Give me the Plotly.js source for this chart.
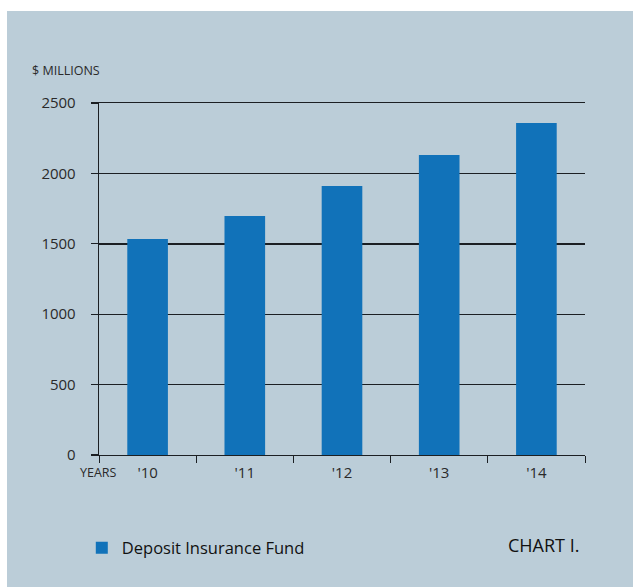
<!DOCTYPE html>
<html>
<head>
<meta charset="utf-8">
<script src="https://cdn.plot.ly/plotly-3.0.1.min.js"></script>
<style>
  html, body { margin: 0; padding: 0; background: #ffffff; width: 633px; height: 587px; overflow: hidden; }
  #chart { position: absolute; left: 7px; top: 11px; width: 626px; height: 576px; }
</style>
</head>
<body>
<div id="chart"></div>
<script>
const years = ["'10", "'11", "'12", "'13", "'14"];
const fundValues = [1534, 1697, 1910, 2131, 2358];
const seriesName = "Deposit Insurance Fund";
const yTicks = [0, 500, 1000, 1500, 2000, 2500];

const FONT = "'Open Sans', 'Noto Sans', sans-serif";
const BG = "#bbcdd8";
const BAR = "#1172b9";
const TXT = "#1e1e1e";
const LINE = "#1b1f23";

const trace = {
  type: "bar",
  x: years,
  y: fundValues,
  name: seriesName,
  marker: { color: BAR, line: { width: 0 } },
  hoverinfo: "x+y"
};

const layout = {
  width: 626,
  height: 576,
  paper_bgcolor: BG,
  plot_bgcolor: BG,
  margin: { l: 92, r: 48, t: 92, b: 132, pad: 0 },
  bargap: 0.582,
  font: { family: FONT, color: TXT, size: 15 },
  showlegend: true,
  legend: {
    x: -0.0354, xanchor: "left",
    y: -0.264, yanchor: "middle",
    bgcolor: "rgba(0,0,0,0)",
    font: { family: FONT, size: 16.5, color: "#111111" }
  },
  xaxis: {
    type: "category",
    tickson: "boundaries",
    ticks: "outside",
    ticklen: 7,
    tickwidth: 1,
    tickcolor: LINE,
    showline: true,
    mirror: true,
    linecolor: LINE,
    linewidth: 1.3,
    showgrid: false,
    tickfont: { family: FONT, size: 15, color: "#2a2a2a" },
    ticklabelstandoff: 4,
    fixedrange: true
  },
  yaxis: {
    range: [0, 2500],
    tickvals: yTicks,
    ticktext: yTicks.map(String),
    ticks: "outside",
    ticklen: 7,
    tickwidth: 1.3,
    tickcolor: LINE,
    showline: true,
    linecolor: LINE,
    linewidth: 1.3,
    showgrid: true,
    gridcolor: LINE,
    gridwidth: 1.4,
    zeroline: false,
    tickfont: { family: FONT, size: 15, color: "#2a2a2a" },
    ticklabelstandoff: 12,
    fixedrange: true
  },
  annotations: [
    {
      text: "$ MILLIONS", xref: "paper", yref: "paper",
      x: -0.143, y: 1.091, xanchor: "left", yanchor: "middle",
      showarrow: false, font: { family: FONT, size: 12.5, color: "#2a2a2a" }
    },
    {
      text: "YEARS", xref: "paper", yref: "paper",
      x: -0.0432, y: -0.0511, xanchor: "left", yanchor: "middle",
      showarrow: false, font: { family: FONT, size: 12.5, color: "#2a2a2a" }
    },
    {
      text: "CHART I.", xref: "paper", yref: "paper",
      x: 0.9918, y: -0.2557, xanchor: "right", yanchor: "middle",
      showarrow: false, font: { family: FONT, size: 18, color: "#111111" }
    }
  ]
};

Plotly.newPlot("chart", [trace], layout, { displayModeBar: false, staticPlot: true });
</script>
</body>
</html>
